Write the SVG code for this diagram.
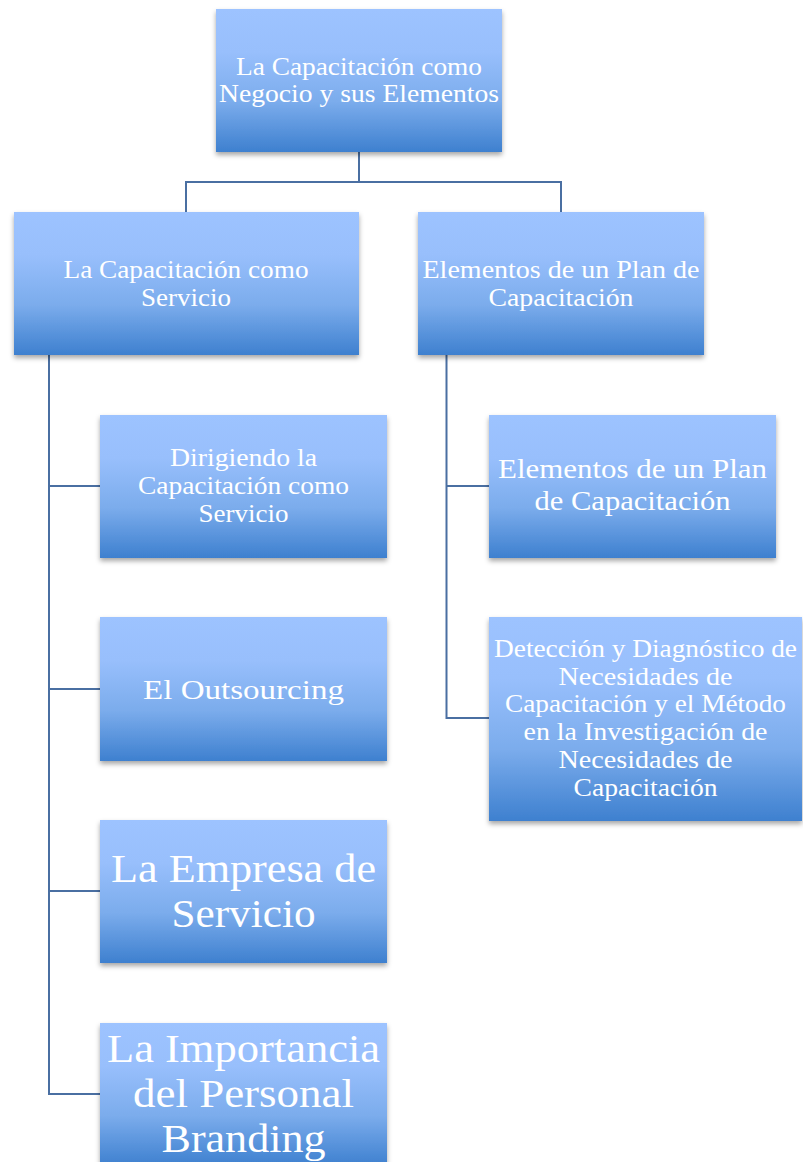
<svg xmlns="http://www.w3.org/2000/svg" width="803" height="1162" viewBox="0 0 803 1162">
<defs>
<linearGradient id="g" x1="0" y1="0" x2="0" y2="1">
<stop offset="0" stop-color="#9DC3FF"/>
<stop offset="0.3" stop-color="#98BFFC"/>
<stop offset="0.65" stop-color="#7BACEC"/>
<stop offset="1" stop-color="#3E80CF"/>
</linearGradient>
<filter id="sh" x="-10%" y="-10%" width="120%" height="125%">
<feDropShadow dx="0" dy="3" stdDeviation="2.5" flood-color="#000" flood-opacity="0.35"/>
</filter>
</defs>
<style>
.box{fill:url(#g);filter:url(#sh);}
.t{font-family:"Liberation Serif","DejaVu Serif",serif;fill:#fff;text-anchor:middle;}
.s{font-size:25px;}
.m{font-size:27.5px;}
.l{font-size:41px;}
.c{fill:none;stroke:#4A6FA2;stroke-width:2;}
</style>
<rect width="803" height="1162" fill="#fff"/>
<g id="connectors">
<path class="c" d="M359,152 V182 M186,182 H561 M186,181 V212 M561,181 V212"/>
<path class="c" d="M49,355 V1094 M48,486 H100 M48,689 H100 M48,891 H100 M48,1094 H100"/>
<path class="c" d="M446.5,355 V718 M445.5,486 H489 M445.5,718 H489"/>
</g>
<g id="n-root">
<rect class="box" x="216" y="9" width="286" height="143"/>
<text class="t s" x="359" y="75" textLength="246" lengthAdjust="spacingAndGlyphs">La Capacitación como</text>
<text class="t s" x="359" y="102" textLength="280" lengthAdjust="spacingAndGlyphs">Negocio y sus Elementos</text>
</g>
<g id="n-servicio">
<rect class="box" x="14" y="212" width="345" height="143"/>
<text class="t s" x="186" y="278" textLength="245" lengthAdjust="spacingAndGlyphs">La Capacitación como</text>
<text class="t s" x="186" y="306" textLength="90" lengthAdjust="spacingAndGlyphs">Servicio</text>
</g>
<g id="n-plan">
<rect class="box" x="418" y="212" width="286" height="143"/>
<text class="t s" x="561" y="278" textLength="277" lengthAdjust="spacingAndGlyphs">Elementos de un Plan de</text>
<text class="t s" x="561" y="306" textLength="145" lengthAdjust="spacingAndGlyphs">Capacitación</text>
</g>
<g id="n-dirigiendo">
<rect class="box" x="100" y="415" width="287" height="143"/>
<text class="t s" x="243.5" y="466" textLength="147" lengthAdjust="spacingAndGlyphs">Dirigiendo la</text>
<text class="t s" x="243.5" y="494" textLength="211" lengthAdjust="spacingAndGlyphs">Capacitación como</text>
<text class="t s" x="243.5" y="522" textLength="90" lengthAdjust="spacingAndGlyphs">Servicio</text>
</g>
<g id="n-outsourcing">
<rect class="box" x="100" y="617" width="287" height="144"/>
<text class="t m" x="243.5" y="699" textLength="201" lengthAdjust="spacingAndGlyphs">El Outsourcing</text>
</g>
<g id="n-empresa">
<rect class="box" x="100" y="820" width="287" height="143"/>
<text class="t l" x="243.5" y="882" textLength="265" lengthAdjust="spacingAndGlyphs">La Empresa de</text>
<text class="t l" x="243.5" y="927" textLength="144" lengthAdjust="spacingAndGlyphs">Servicio</text>
</g>
<g id="n-branding">
<rect class="box" x="100" y="1023" width="287" height="143"/>
<text class="t l" x="243.5" y="1062" textLength="273" lengthAdjust="spacingAndGlyphs">La Importancia</text>
<text class="t l" x="243.5" y="1107" textLength="221" lengthAdjust="spacingAndGlyphs">del Personal</text>
<text class="t l" x="243.5" y="1152" textLength="164" lengthAdjust="spacingAndGlyphs">Branding</text>
</g>
<g id="n-elementos">
<rect class="box" x="489" y="415" width="287" height="143"/>
<text class="t m" x="632.5" y="478" textLength="269" lengthAdjust="spacingAndGlyphs">Elementos de un Plan</text>
<text class="t m" x="632.5" y="510" textLength="196" lengthAdjust="spacingAndGlyphs">de Capacitación</text>
</g>
<g id="n-deteccion">
<rect class="box" x="489" y="617" width="313" height="204"/>
<text class="t s" x="645.5" y="657" textLength="303" lengthAdjust="spacingAndGlyphs">Detección y Diagnóstico de</text>
<text class="t s" x="645.5" y="685" textLength="174" lengthAdjust="spacingAndGlyphs">Necesidades de</text>
<text class="t s" x="645.5" y="712" textLength="281" lengthAdjust="spacingAndGlyphs">Capacitación y el Método</text>
<text class="t s" x="645.5" y="740" textLength="244" lengthAdjust="spacingAndGlyphs">en la Investigación de</text>
<text class="t s" x="645.5" y="768" textLength="174" lengthAdjust="spacingAndGlyphs">Necesidades de</text>
<text class="t s" x="645.5" y="796" textLength="144" lengthAdjust="spacingAndGlyphs">Capacitación</text>
</g>
</svg>
